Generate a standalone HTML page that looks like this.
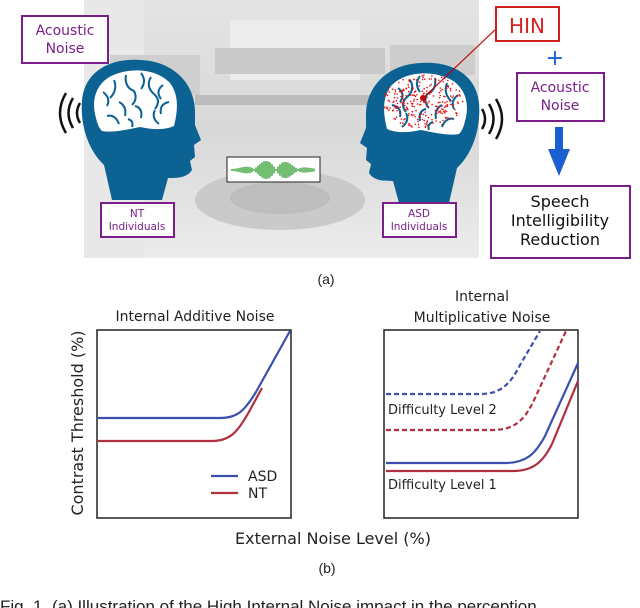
<!DOCTYPE html>
<html><head><meta charset="utf-8">
<style>
body{margin:0;background:#fff;width:640px;height:608px;overflow:hidden;font-family:"Liberation Sans","DejaVu Sans",sans-serif;}
svg{display:block}
</style></head><body>
<svg width="640" height="608" viewBox="0 0 640 608" xmlns="http://www.w3.org/2000/svg" font-family="DejaVu Sans, Liberation Sans, sans-serif">
<defs>
<linearGradient id="bg" x1="0" y1="0" x2="0" y2="1">
<stop offset="0" stop-color="#e4e4e4"/><stop offset="0.5" stop-color="#d8d8d8"/><stop offset="1" stop-color="#ececec"/>
</linearGradient>
<g id="head">
<path d="M112,200 L104,165 C88,150 80,125 82,100 C85,70 112,58 140,60 C172,61 194,82 195,110 L195,125 L201,140 L194,145 L195,157 L190,161 L192,170 C187,178 177,178 168,178 L162,200 Z" fill="#0b6293"/>
<path d="M96,118 C90,98 98,80 116,74 C135,67 158,70 170,83 C179,95 178,110 174,126 C163,131 150,129 140,127 C125,130 112,133 102,131 C99,128 97,123 96,118 Z" fill="#fff"/>
<path d="M103,92 q8,6 4,14 M114,80 q4,10 -4,18 M126,75 q-2,12 8,16 q4,8 -2,14 M141,73 q6,8 0,16 M151,77 q-6,10 4,18 q6,6 0,14 M163,85 q-8,6 -2,14 M169,102 q-10,2 -8,12 M119,102 q8,4 6,14 M107,116 q8,-2 12,8 M135,106 q8,2 6,12 M155,110 q-4,8 4,14 M128,119 q6,2 4,8" stroke="#0b6293" stroke-width="2" fill="none"/>
</g>
</defs>
<!-- photo -->
<rect x="84" y="0" width="395" height="258" fill="url(#bg)"/>
<rect x="84" y="0" width="60" height="258" fill="#e8e8e8"/>
<rect x="230" y="20" width="130" height="60" fill="#ececec"/>
<rect x="110" y="55" width="90" height="40" fill="#cfcfcf"/>
<rect x="215" y="48" width="170" height="26" fill="#c9c9c9"/>
<rect x="390" y="45" width="85" height="30" fill="#cdcdcd"/>
<rect x="195" y="95" width="190" height="10" fill="#bcbcbc"/>
<ellipse cx="280" cy="200" rx="85" ry="30" fill="#cacaca"/>
<ellipse cx="280" cy="198" rx="50" ry="16" fill="#bdbdbd"/>
<!-- heads -->
<use href="#head"/>
<use href="#head" transform="translate(561,3) scale(-1,1)"/>
<g id="dots" fill="#e01010"></g>
<line x1="421" y1="100" x2="497" y2="28" stroke="#c00000" stroke-width="1.2"/>
<circle cx="423" cy="98" r="3" fill="#c00000"/>
<!-- sound waves -->
<g fill="none" stroke="#111" stroke-width="2.5">
<path d="M80,103 q-6,10 0,20"/><path d="M73,98 q-9,15 0,30"/><path d="M66,93 q-12,20 0,40"/>
<path d="M482,109 q6,10 0,20"/><path d="M489,104 q9,15 0,30"/><path d="M496,99 q12,20 0,40"/>
</g>
<!-- waveform -->
<rect x="227" y="157" width="93" height="25" fill="#fff" stroke="#222" stroke-width="1"/>
<g stroke="#2a9a2a" stroke-width="1.3" id="wave"></g>
<!-- boxes -->
<g fill="#fff" stroke="#7a1f8a" stroke-width="2">
<rect x="22" y="16" width="86" height="47"/>
<rect x="101" y="203" width="73" height="34"/>
<rect x="383" y="203" width="73" height="34"/>
<rect x="517" y="73" width="87" height="48"/>
<rect x="491" y="186" width="139" height="72"/>
</g>
<rect x="496" y="7" width="63" height="34" fill="#fff" stroke="#d02020" stroke-width="2"/>
<g fill="#7a1f8a" text-anchor="middle" font-size="14">
<text x="65" y="35">Acoustic</text><text x="65" y="53">Noise</text>
<text x="560" y="92">Acoustic</text><text x="560" y="110">Noise</text>
<text x="137" y="217" font-size="10.5">NT</text><text x="137" y="230" font-size="10.5">Individuals</text>
<text x="419" y="217" font-size="10.5">ASD</text><text x="419" y="230" font-size="10.5">Individuals</text>
</g>
<text x="527" y="33" text-anchor="middle" font-size="20" fill="#d82020">HIN</text>
<text x="555" y="65" text-anchor="middle" font-size="22" fill="#1a5fd0">+</text>
<path d="M555,127 h8 v22 h7 l-11,27 l-11,-27 h7 Z" fill="#1a5fd0"/>
<g fill="#111" text-anchor="middle" font-size="16">
<text x="560" y="207">Speech</text><text x="560" y="226">Intelligibility</text><text x="560" y="245">Reduction</text>
</g>
<text x="326" y="284" text-anchor="middle" font-size="14" fill="#222" font-family="Liberation Sans, sans-serif">(a)</text>
<!-- plots -->
<g fill="none" stroke="#222" stroke-width="1.5">
<rect x="97" y="330" width="194" height="188"/>
<rect x="384" y="330" width="194" height="188"/>
</g>
<g fill="none" stroke-width="2.2">
<path d="M98,418 L220,418 C238,418 245,410 256,392 L290,331" stroke="#3a4fb0"/>
<path d="M98,441 L212,441 C230,441 238,432 250,410 L262,388" stroke="#b03040"/>
<path d="M211,476 h27" stroke="#3a4fb0"/><path d="M211,493 h27" stroke="#b03040"/>
<path d="M386,394 L480,394 C500,394 510,385 520,365 L540,331" stroke="#3a4fb0" stroke-dasharray="5,3"/>
<path d="M386,430 L492,430 C515,430 525,420 535,398 L566,331" stroke="#b03040" stroke-dasharray="5,3"/>
<path d="M386,463 L505,463 C525,463 535,455 545,436 L578,363" stroke="#3a4fb0"/>
<path d="M386,471 L513,471 C533,471 543,462 552,444 L578,381" stroke="#b03040"/>
</g>
<g fill="#222" font-size="14">
<text x="248" y="481">ASD</text><text x="248" y="498">NT</text>
<text x="388" y="414" font-size="13">Difficulty Level 2</text>
<text x="388" y="489" font-size="13">Difficulty Level 1</text>
<text x="195" y="321" text-anchor="middle">Internal Additive Noise</text>
<text x="482" y="301" text-anchor="middle">Internal</text>
<text x="482" y="322" text-anchor="middle">Multiplicative Noise</text>
<text x="333" y="544" text-anchor="middle" font-size="16">External Noise Level (%)</text>
<text transform="translate(83,423) rotate(-90)" text-anchor="middle" font-size="16">Contrast Threshold (%)</text>
</g>
<text x="327" y="573" text-anchor="middle" font-size="14" fill="#222" font-family="Liberation Sans, sans-serif">(b)</text>
<text x="0" y="612" font-size="17" fill="#222" font-family="Liberation Sans, sans-serif">Fig. 1.   (a) Illustration of the High Internal Noise impact in the perception</text>
</svg>
<script>
var g=document.getElementById('dots'),s=7,ns="http://www.w3.org/2000/svg";
function r(){s=(s*9301+49297)%233280;return s/233280;}
for(var i=0;i<260;i++){var a=r()*6.283,d=Math.sqrt(r());var x=423+Math.cos(a)*d*40,y=101+Math.sin(a)*d*27;
var c=document.createElementNS(ns,'circle');c.setAttribute('cx',x.toFixed(1));c.setAttribute('cy',y.toFixed(1));c.setAttribute('r','0.8');g.appendChild(c);}
var w=document.getElementById('wave');
for(var x=232;x<316;x+=2){var h=Math.abs(Math.sin((x-232)/7))*9*Math.exp(-Math.pow((x-274)/25,2))+1;
var l=document.createElementNS(ns,'line');l.setAttribute('x1',x);l.setAttribute('x2',x);l.setAttribute('y1',170-h);l.setAttribute('y2',170+h);w.appendChild(l);}
</script>
</body></html>
